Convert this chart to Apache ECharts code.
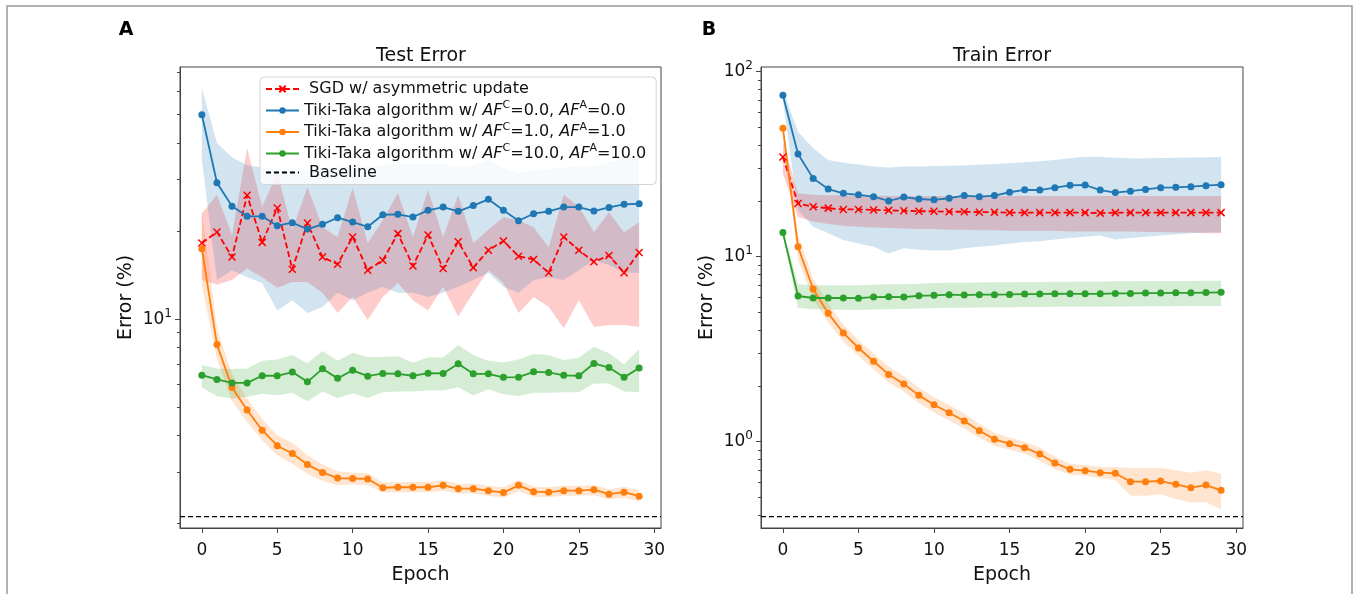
<!DOCTYPE html>
<html>
<head>
<meta charset="utf-8">
<script src="https://cdn.jsdelivr.net/npm/echarts@6/dist/echarts.min.js"></script>
<style>
  html, body { margin: 0; background: #fff; }
  #chart { width: 1360px; height: 594px; }
</style>
</head>
<body>
<div id="chart"></div>
<script>
const epochs = [0, 1, 2, 3, 4, 5, 6, 7, 8, 9, 10, 11, 12, 13, 14, 15, 16, 17, 18, 19, 20, 21, 22, 23, 24, 25, 26, 27, 28, 29];

// panel A: test error (%)
const sgdTest = [18.2, 19.85, 16.3, 26.5, 18.3, 24.0, 14.8, 21.3, 16.3, 15.4, 19.1, 14.7, 15.9, 19.6, 15.2, 19.4, 14.9, 18.4, 15.0, 17.2, 18.5, 16.4, 16.0, 14.4, 19.1, 17.2, 15.7, 16.5, 14.4, 16.9];
const sgdTestHi = [23.0, 26.6, 19.4, 38.5, 24.2, 31.6, 20.2, 28.3, 20.6, 19.1, 28.1, 18.2, 21.8, 27.0, 19.1, 27.6, 19.1, 26.6, 18.2, 20.2, 22.3, 21.8, 20.6, 17.6, 26.6, 24.2, 19.8, 23.2, 19.8, 21.5];
const sgdTestLo = [13.6, 13.1, 13.6, 14.9, 13.9, 12.8, 13.4, 13.4, 12.3, 10.5, 11.9, 9.92, 11.9, 13.3, 11.6, 10.7, 12.9, 10.2, 12.3, 14.7, 13.3, 10.5, 11.9, 11.0, 9.31, 11.6, 9.39, 9.54, 9.54, 9.39];
const blueTest = [50.0, 29.27, 24.3, 22.46, 22.46, 20.86, 21.36, 20.32, 21.09, 22.22, 21.47, 20.69, 22.74, 22.81, 22.34, 23.55, 24.16, 23.36, 24.45, 25.68, 23.55, 21.7, 22.93, 23.36, 24.16, 24.16, 23.41, 24.1, 24.68, 24.8];
const blueTestHi = [61.6, 40.0, 35.8, 33.6, 33.0, 32.5, 32.0, 32.3, 32.5, 33.0, 33.3, 33.0, 33.6, 34.0, 34.0, 34.0, 34.0, 33.0, 33.5, 35.0, 33.0, 31.6, 32.3, 32.5, 33.0, 33.3, 33.3, 34.5, 35.0, 35.8];
const blueTestLo = [35.0, 13.6, 14.7, 13.9, 13.3, 10.7, 11.6, 10.5, 11.0, 12.3, 11.6, 12.3, 12.9, 12.3, 12.3, 11.9, 12.3, 12.9, 13.6, 14.4, 12.9, 12.3, 13.6, 13.9, 13.6, 14.7, 15.9, 15.3, 14.4, 14.4];
const orangeTest = [17.4, 8.19, 5.84, 4.89, 4.17, 3.69, 3.47, 3.18, 2.99, 2.86, 2.85, 2.84, 2.65, 2.66, 2.66, 2.66, 2.70, 2.63, 2.63, 2.59, 2.55, 2.70, 2.57, 2.56, 2.59, 2.59, 2.61, 2.52, 2.56, 2.48];
const orangeTestHi = [23.5, 9.3, 6.5, 5.35, 4.55, 4.0, 3.78, 3.42, 3.18, 3.02, 2.98, 2.97, 2.76, 2.77, 2.77, 2.77, 2.81, 2.73, 2.74, 2.69, 2.66, 2.82, 2.67, 2.66, 2.69, 2.69, 2.71, 2.62, 2.67, 2.60];
const orangeTestLo = [13.0, 7.3, 5.25, 4.45, 3.85, 3.42, 3.2, 2.95, 2.80, 2.70, 2.72, 2.71, 2.55, 2.55, 2.56, 2.56, 2.59, 2.53, 2.53, 2.49, 2.45, 2.58, 2.47, 2.46, 2.49, 2.49, 2.50, 2.42, 2.45, 2.38];
const greenTest = [6.43, 6.22, 6.05, 6.05, 6.40, 6.40, 6.59, 6.10, 6.76, 6.27, 6.68, 6.38, 6.52, 6.50, 6.40, 6.53, 6.52, 7.03, 6.50, 6.50, 6.32, 6.33, 6.60, 6.57, 6.42, 6.40, 7.05, 6.83, 6.32, 6.80];
const greenTestHi = [6.96, 6.78, 6.75, 6.78, 7.20, 7.28, 7.53, 7.06, 7.78, 7.20, 7.67, 7.42, 7.42, 7.47, 7.09, 7.39, 7.39, 8.15, 7.53, 7.20, 7.11, 7.28, 7.59, 7.53, 7.24, 7.37, 8.04, 7.64, 7.01, 7.88];
const greenTestLo = [5.83, 5.45, 5.35, 5.42, 5.56, 5.49, 5.60, 5.24, 5.65, 5.37, 5.58, 5.37, 5.62, 5.65, 5.65, 5.70, 5.70, 5.85, 5.48, 5.75, 5.53, 5.46, 5.60, 5.60, 5.62, 5.62, 6.02, 6.02, 5.65, 5.62];

// panel B: train error (%)
const sgdTrain = [34.6, 19.4, 18.6, 18.3, 18.0, 18.0, 17.9, 17.8, 17.7, 17.6, 17.6, 17.5, 17.5, 17.4, 17.4, 17.3, 17.3, 17.3, 17.3, 17.3, 17.3, 17.2, 17.3, 17.3, 17.3, 17.3, 17.3, 17.3, 17.3, 17.3];
const sgdTrainHi = [41.8, 22.0, 21.6, 21.5, 21.5, 21.4, 21.4, 21.3, 21.3, 21.3, 21.3, 21.3, 21.3, 21.3, 21.3, 21.3, 21.3, 21.3, 21.3, 21.3, 21.3, 21.3, 21.3, 21.3, 21.3, 21.3, 21.3, 21.3, 21.3, 21.3];
const sgdTrainLo = [28.2, 16.4, 15.5, 15.0, 14.7, 14.5, 14.4, 14.3, 14.2, 14.1, 14.1, 14.0, 14.0, 13.9, 13.9, 13.8, 13.8, 13.8, 13.8, 13.7, 13.7, 13.7, 13.7, 13.7, 13.6, 13.6, 13.5, 13.5, 13.4, 13.4];
const blueTrain = [74.6, 35.9, 26.5, 23.2, 22.0, 21.6, 21.1, 20.0, 21.0, 20.5, 20.3, 20.7, 21.4, 21.1, 21.4, 22.3, 23.0, 22.9, 23.6, 24.3, 24.4, 22.9, 22.2, 22.6, 23.1, 23.6, 23.7, 23.9, 24.2, 24.5];
const blueTrainHi = [79.0, 47.4, 38.5, 33.3, 32.2, 31.5, 30.7, 30.3, 30.7, 30.7, 30.9, 31.0, 31.2, 31.4, 31.7, 32.0, 32.4, 32.8, 33.3, 34.0, 34.7, 34.7, 34.3, 34.0, 34.1, 34.2, 34.3, 34.4, 34.5, 34.6];
const blueTrainLo = [70.3, 17.9, 14.5, 13.4, 12.3, 11.8, 11.3, 10.4, 11.1, 10.9, 10.8, 10.8, 11.1, 11.3, 11.5, 11.8, 12.0, 12.1, 12.4, 12.6, 12.8, 13.0, 12.4, 12.6, 12.8, 13.0, 13.2, 13.4, 13.5, 13.5];
const orangeTrain = [49.4, 11.3, 6.69, 4.94, 3.87, 3.21, 2.72, 2.31, 2.05, 1.78, 1.585, 1.435, 1.294, 1.147, 1.03, 0.975, 0.928, 0.858, 0.767, 0.709, 0.697, 0.680, 0.675, 0.608, 0.608, 0.613, 0.588, 0.564, 0.583, 0.546];
const orangeTrainHi = [52.0, 13.2, 7.6, 5.55, 4.3, 3.55, 3.0, 2.55, 2.26, 1.96, 1.74, 1.58, 1.42, 1.25, 1.12, 1.05, 1.0, 0.93, 0.83, 0.76, 0.745, 0.73, 0.73, 0.72, 0.72, 0.72, 0.70, 0.68, 0.70, 0.67];
const orangeTrainLo = [47.0, 9.6, 5.9, 4.4, 3.48, 2.9, 2.46, 2.09, 1.86, 1.62, 1.44, 1.30, 1.18, 1.05, 0.95, 0.905, 0.86, 0.79, 0.71, 0.665, 0.655, 0.635, 0.62, 0.51, 0.51, 0.52, 0.49, 0.47, 0.47, 0.43];
const greenTrain = [13.5, 6.13, 5.98, 5.98, 5.98, 5.97, 6.05, 6.07, 6.05, 6.15, 6.18, 6.23, 6.20, 6.23, 6.23, 6.25, 6.28, 6.28, 6.31, 6.30, 6.30, 6.30, 6.33, 6.33, 6.36, 6.36, 6.38, 6.38, 6.40, 6.42];
const greenTrainHi = [13.9, 7.1, 7.0, 7.0, 7.0, 7.0, 7.05, 7.1, 7.1, 7.15, 7.2, 7.22, 7.24, 7.25, 7.27, 7.28, 7.3, 7.3, 7.32, 7.33, 7.35, 7.35, 7.37, 7.37, 7.38, 7.39, 7.4, 7.4, 7.41, 7.42];
const greenTrainLo = [13.1, 5.3, 5.2, 5.18, 5.16, 5.15, 5.18, 5.2, 5.22, 5.25, 5.27, 5.3, 5.3, 5.31, 5.32, 5.33, 5.34, 5.35, 5.36, 5.36, 5.37, 5.37, 5.38, 5.38, 5.39, 5.4, 5.4, 5.41, 5.42, 5.42];

const baseline = [2.11, 0.394];   // test, train
const xTicks = [0, 5, 10, 15, 20, 25, 30];
const testMajor = [10];
const testMinor = [2, 3, 4, 5, 6, 7, 8, 9, 20, 30, 40, 50, 60, 70];
const trainMajor = [1, 10, 100];
const trainMinor = [0.4, 0.5, 0.6, 0.7, 0.8, 0.9, 2, 3, 4, 5, 6, 7, 8, 9, 20, 30, 40, 50, 60, 70, 80, 90];

const names = [
  'SGD w/ asymmetric update',
  'Tiki-Taka algorithm w/ AF^C=0.0, AF^A=0.0',
  'Tiki-Taka algorithm w/ AF^C=1.0, AF^A=1.0',
  'Tiki-Taka algorithm w/ AF^C=10.0, AF^A=10.0',
  'Baseline'
];

const FONT = 'DejaVu Sans';
const AX = '#444';
const RED = '#ff0000', BLUE = '#1f77b4', ORANGE = '#ff7f0e', GREEN = '#2ca02c';
const xMark = 'path://M0,0L10,10M10,0L0,10';

function band(lo, hi, color, gi) {
  return {
    type: 'custom', xAxisIndex: gi, yAxisIndex: gi * 2, z: 1, silent: true,
    data: epochs.map((e, i) => [e, lo[i], hi[i]]),
    encode: { x: 0, y: [1, 2] },
    renderItem(params, api) {
      if (params.dataIndex !== 0) return;
      const pts = [];
      for (let i = 0; i < epochs.length; i++) pts.push(api.coord([epochs[i], hi[i]]));
      for (let i = epochs.length - 1; i >= 0; i--) pts.push(api.coord([epochs[i], lo[i]]));
      return { type: 'polygon', shape: { points: pts }, style: { fill: color } };
    }
  };
}

function line(name, vals, color, gi, dashed) {
  return {
    name: name, type: 'line', xAxisIndex: gi, yAxisIndex: gi * 2, z: 3,
    data: epochs.map((e, i) => [e, vals[i]]),
    symbol: dashed ? xMark : 'circle',
    symbolSize: 7,
    lineStyle: { color: color, width: 1.8, type: dashed ? [6, 3] : 'solid' },
    itemStyle: dashed ? { color: color, borderColor: color, borderWidth: 1.5 } : { color: color }
  };
}

function baseLine(v, gi) {
  return {
    name: 'Baseline', type: 'line', xAxisIndex: gi, yAxisIndex: gi * 2, z: 3,
    data: [[-1.45, v], [30.45, v]], symbol: 'none', showSymbol: false,
    itemStyle: { color: '#000', opacity: 0 },
    lineStyle: { color: '#000', width: 1.3, type: [5, 3] }
  };
}

function supFmt(v) {
  const e = Math.round(Math.log10(v));
  if (Math.abs(Math.log10(v) - e) > 1e-6) return '';
  return '{b|10}{sup|' + e + '}';
}

function yAxes(gi, min, max, major, minor) {
  return [{
    type: 'log', logBase: 10, gridIndex: gi, min: min, max: max, position: 'left',
    name: 'Error (%)', nameLocation: 'middle', nameGap: 44,
    nameTextStyle: { fontFamily: FONT, fontSize: 19, color: '#111' },
    axisLine: { show: true, onZero: false, lineStyle: { color: AX, width: 1 } },
    axisTick: { show: true, length: 5, customValues: major, lineStyle: { color: AX } },
    axisLabel: {
      customValues: major, formatter: supFmt, margin: 8, color: '#111', fontFamily: FONT,
      rich: {
        b: { fontFamily: FONT, fontSize: 17, lineHeight: 18, color: '#111' },
        sup: { fontFamily: FONT, fontSize: 12, height: 7, lineHeight: 7, verticalAlign: 'top', color: '#111' }
      }
    },
    splitLine: { show: false }
  }, {
    type: 'log', logBase: 10, gridIndex: gi, min: min, max: max, position: 'left', offset: 0,
    axisLine: { show: false, onZero: false },
    axisTick: { show: true, length: 3, customValues: minor, lineStyle: { color: AX } },
    axisLabel: { show: false },
    splitLine: { show: false }
  }];
}

function xAxis(gi) {
  return {
    type: 'value', gridIndex: gi, min: -1.45, max: 30.45,
    name: 'Epoch', nameLocation: 'middle', nameGap: 38,
    nameTextStyle: { fontFamily: FONT, fontSize: 19, color: '#111' },
    axisLine: { show: true, onZero: false, lineStyle: { color: AX, width: 1 } },
    axisTick: { show: true, length: 5, customValues: xTicks, lineStyle: { color: AX } },
    axisLabel: { customValues: xTicks, margin: 14, fontFamily: FONT, fontSize: 17, color: '#111' },
    splitLine: { show: false }
  };
}

const chart = echarts.init(document.getElementById('chart'));
chart.setOption({
  animation: false,
  backgroundColor: '#fff',
  grid: [
    { left: 180, top: 67, width: 481, height: 461, show: true, borderColor: AX, borderWidth: 1 },
    { left: 761, top: 67, width: 482, height: 461, show: true, borderColor: AX, borderWidth: 1 }
  ],
  xAxis: [xAxis(0), xAxis(1)],
  yAxis: yAxes(0, 1.93, 72.8, testMajor, testMinor).concat(yAxes(1, 0.3416, 106, trainMajor, trainMinor)),
  legend: {
    data: names.slice(0, 4).concat([{ name: 'Baseline', itemStyle: { opacity: 0 } }]),
    selectedMode: false, orient: 'vertical', left: 260, top: 77,
    itemWidth: 33, itemHeight: 8, itemGap: 3, padding: [4, 10, 4, 5],
    backgroundColor: 'rgba(255,255,255,0.8)', borderColor: '#d4d4d4', borderWidth: 1, borderRadius: 4,
    formatter(name) {
      if (name === names[0] || name === names[4]) return ' ' + name;
      return name.replace(/AF\^([CA])/g, '{it|AF}{sup|$1}');
    },
    textStyle: {
      fontFamily: FONT, fontSize: 16, lineHeight: 16, color: '#111',
      rich: {
        it: { fontFamily: FONT, fontStyle: 'italic', fontSize: 16, lineHeight: 16, color: '#111' },
        sup: { fontFamily: FONT, fontSize: 11, height: 6, lineHeight: 6, verticalAlign: 'top', color: '#111' }
      }
    }
  },
  graphic: [
    { type: 'rect', shape: { x: 7, y: 6, width: 1345, height: 600 }, style: { fill: 'none', stroke: '#999', lineWidth: 1.5 }, silent: true },
    { type: 'text', x: 126, y: 30, style: { text: 'A', font: 'bold 19px "DejaVu Sans"', fill: '#000', textAlign: 'center', textVerticalAlign: 'middle' } },
    { type: 'text', x: 709, y: 30, style: { text: 'B', font: 'bold 19px "DejaVu Sans"', fill: '#000', textAlign: 'center', textVerticalAlign: 'middle' } },
    { type: 'text', x: 421, y: 56, style: { text: 'Test Error', font: '19px "DejaVu Sans"', fill: '#111', textAlign: 'center', textVerticalAlign: 'middle' } },
    { type: 'text', x: 1002, y: 56, style: { text: 'Train Error', font: '19px "DejaVu Sans"', fill: '#111', textAlign: 'center', textVerticalAlign: 'middle' } }
  ],
  series: [
    band(sgdTestLo, sgdTestHi, 'rgba(255,0,0,0.2)', 0),
    band(blueTestLo, blueTestHi, 'rgba(31,119,180,0.2)', 0),
    band(orangeTestLo, orangeTestHi, 'rgba(255,127,14,0.2)', 0),
    band(greenTestLo, greenTestHi, 'rgba(44,160,44,0.2)', 0),
    line(names[0], sgdTest, RED, 0, true),
    line(names[1], blueTest, BLUE, 0),
    line(names[2], orangeTest, ORANGE, 0),
    line(names[3], greenTest, GREEN, 0),
    baseLine(baseline[0], 0),

    band(sgdTrainLo, sgdTrainHi, 'rgba(255,0,0,0.2)', 1),
    band(blueTrainLo, blueTrainHi, 'rgba(31,119,180,0.2)', 1),
    band(orangeTrainLo, orangeTrainHi, 'rgba(255,127,14,0.2)', 1),
    band(greenTrainLo, greenTrainHi, 'rgba(44,160,44,0.2)', 1),
    line(names[0], sgdTrain, RED, 1, true),
    line(names[1], blueTrain, BLUE, 1),
    line(names[2], orangeTrain, ORANGE, 1),
    line(names[3], greenTrain, GREEN, 1),
    baseLine(baseline[1], 1)
  ]
});
</script>
</body>
</html>
